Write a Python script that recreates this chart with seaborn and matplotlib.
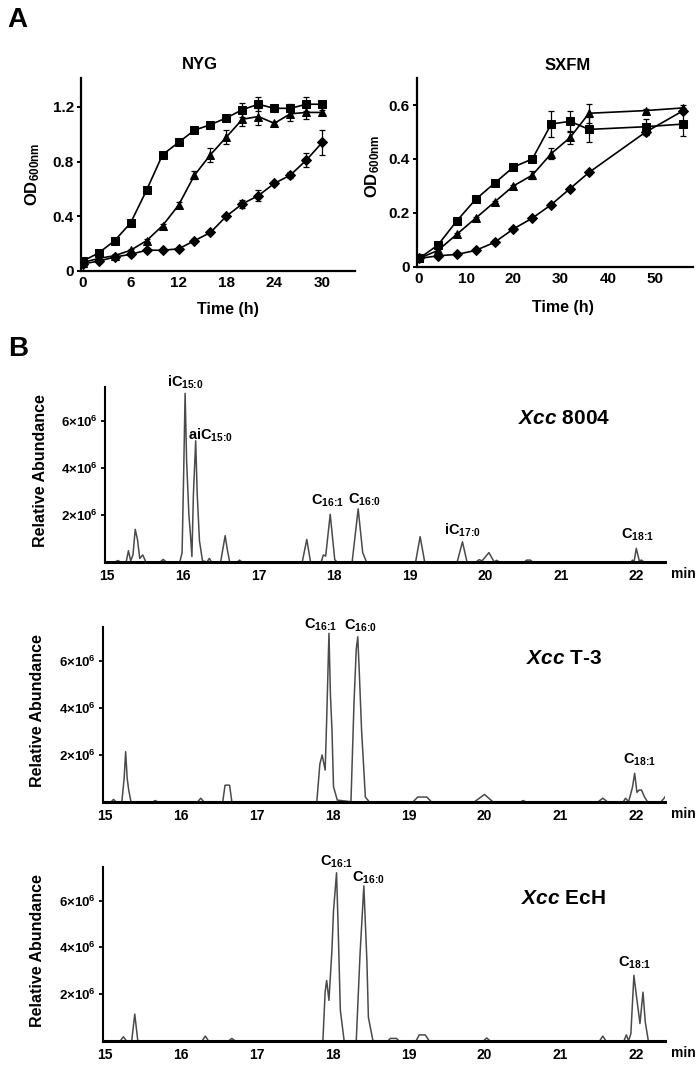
import numpy as np
import pandas as pd
import seaborn as sns
import matplotlib.pyplot as plt

# =====================================================
# Panel A data: growth curves (OD600)
# =====================================================

nyg_time = [0, 2, 4, 6, 8, 10, 12, 14, 16, 18, 20, 22, 24, 26, 28, 30]
nyg_square = [0.07, 0.13, 0.22, 0.35, 0.59, 0.85, 0.94, 1.03, 1.07, 1.12, 1.18, 1.22, 1.19, 1.19, 1.22, 1.22]
nyg_triangle = [0.06, 0.09, 0.11, 0.15, 0.22, 0.33, 0.48, 0.70, 0.85, 0.98, 1.11, 1.13, 1.08, 1.15, 1.16, 1.16]
nyg_diamond = [0.05, 0.07, 0.10, 0.12, 0.15, 0.15, 0.16, 0.22, 0.28, 0.40, 0.49, 0.55, 0.64, 0.70, 0.81, 0.94]
nyg_square_err = [0.01, 0.01, 0.01, 0.01, 0.01, 0.01, 0.01, 0.01, 0.01, 0.01, 0.05, 0.05, 0.01, 0.03, 0.05, 0.02]
nyg_triangle_err = [0.01, 0.01, 0.01, 0.01, 0.01, 0.01, 0.02, 0.03, 0.05, 0.05, 0.05, 0.06, 0.01, 0.05, 0.05, 0.02]
nyg_diamond_err = [0.01, 0.01, 0.01, 0.01, 0.01, 0.01, 0.01, 0.01, 0.01, 0.01, 0.03, 0.04, 0.01, 0.02, 0.05, 0.09]

sxfm_time = [0, 4, 8, 12, 16, 20, 24, 28, 32, 36, 48, 56]
sxfm_square = [0.03, 0.08, 0.17, 0.25, 0.31, 0.37, 0.40, 0.53, 0.54, 0.51, 0.52, 0.53]
sxfm_triangle = [0.03, 0.06, 0.12, 0.18, 0.24, 0.30, 0.34, 0.42, 0.48, 0.57, 0.58, 0.59]
sxfm_diamond = [0.03, 0.04, 0.045, 0.06, 0.09, 0.14, 0.18, 0.23, 0.29, 0.35, 0.50, 0.58]
sxfm_square_err = [0.005, 0.005, 0.005, 0.005, 0.005, 0.005, 0.01, 0.05, 0.04, 0.045, 0.03, 0.045]
sxfm_triangle_err = [0.005, 0.005, 0.005, 0.005, 0.005, 0.005, 0.015, 0.02, 0.025, 0.035, 0.005, 0.01]
sxfm_diamond_err = [0.005, 0.005, 0.005, 0.005, 0.005, 0.005, 0.005, 0.005, 0.005, 0.005, 0.01, 0.01]

# =====================================================
# Panel B data: GC traces (abundance in units of 1e6)
# =====================================================

b1_time = [14.98, 15.10, 15.14, 15.18, 15.25, 15.28, 15.31, 15.34, 15.37, 15.40, 15.43, 15.47, 15.51,
           15.70, 15.74, 15.78, 15.96, 15.99, 16.01, 16.03, 16.05, 16.08, 16.10, 16.12, 16.14, 16.17,
           16.19, 16.22, 16.26, 16.32, 16.35, 16.38, 16.50, 16.56, 16.59, 16.62, 16.72, 16.75, 16.78,
           17.58, 17.64, 17.69, 17.83, 17.86, 17.89, 17.95, 18.01, 18.04, 18.24, 18.32, 18.38, 18.43,
           19.08, 19.14, 19.20, 19.63, 19.70, 19.76, 19.88, 19.92, 19.96, 20.05, 20.12, 20.15, 20.19,
           20.52, 20.55, 20.60, 20.63, 21.93, 21.95, 21.97, 22.00, 22.04, 22.07, 22.10, 22.38]
b1_abund = [0, 0, 0.06, 0, 0, 0.48, 0.05, 0.3, 1.39, 0.95, 0.15, 0.3, 0,
            0, 0.11, 0, 0, 0.4, 3.6, 7.18, 4.3, 2.0, 1.2, 0.23, 2.9, 5.16,
            2.9, 0.9, 0.05, 0, 0.15, 0, 0, 1.12, 0.5, 0, 0, 0.08, 0,
            0, 0.96, 0, 0, 0.3, 0.25, 2.03, 0.1, 0, 0, 2.26, 0.4, 0,
            0, 1.08, 0, 0, 0.86, 0, 0, 0.1, 0.05, 0.4, 0, 0.07, 0,
            0, 0.08, 0.08, 0, 0, 0.08, 0, 0.58, 0.05, 0.08, 0, 0]

b2_time = [14.98, 15.08, 15.11, 15.14, 15.22, 15.25, 15.27, 15.29, 15.31, 15.34, 15.63, 15.66, 15.69,
           16.22, 16.26, 16.30, 16.55, 16.58, 16.61, 16.64, 16.67, 17.79, 17.83, 17.86, 17.90, 17.92,
           17.95, 17.97, 17.99, 18.01, 18.06, 18.24, 18.28, 18.31, 18.33, 18.35, 18.38, 18.43, 18.48,
           19.06, 19.12, 19.24, 19.30, 19.87, 20.00, 20.11, 20.48, 20.51, 20.54, 21.50, 21.56, 21.62,
           21.83, 21.86, 21.90, 21.95, 21.98, 22.01, 22.04, 22.07, 22.11, 22.15, 22.33, 22.38, 22.42]
b2_abund = [0, 0, 0.1, 0, 0, 1.0, 2.13, 1.0, 0.5, 0, 0, 0.05, 0,
            0, 0.15, 0, 0, 0.7, 0.71, 0.7, 0, 0, 1.6, 1.99, 1.35, 3.5,
            7.17, 4.5, 3.05, 0.64, 0.07, 0, 4.19, 6.5, 7.02, 5.5, 3.05, 0.2, 0,
            0, 0.2, 0.2, 0, 0, 0.31, 0, 0, 0.05, 0, 0, 0.15, 0,
            0, 0.15, 0, 0.6, 1.21, 0.4, 0.5, 0.5, 0.2, 0, 0, 0.2, 0.5]

b3_time = [14.98, 15.20, 15.24, 15.28, 15.35, 15.39, 15.43, 16.28, 16.32, 16.36, 16.63, 16.67, 16.71,
           17.87, 17.90, 17.92, 17.95, 17.99, 18.01, 18.05, 18.07, 18.10, 18.15, 18.31, 18.36, 18.41,
           18.45, 18.47, 18.53, 18.73, 18.76, 18.84, 18.87, 19.10, 19.14, 19.22, 19.27, 19.99, 20.03,
           20.07, 21.52, 21.56, 21.60, 21.84, 21.87, 21.90, 21.93, 21.97, 22.00, 22.05, 22.09, 22.12,
           22.16, 22.38]
b3_abund = [0, 0, 0.17, 0, 0, 1.14, 0, 0, 0.2, 0, 0, 0.1, 0,
            0, 2.1, 2.58, 1.73, 3.93, 5.56, 7.19, 5.0, 1.31, 0, 0, 3.72, 6.63,
            3.43, 1.0, 0, 0, 0.1, 0.1, 0, 0, 0.25, 0.25, 0, 0, 0.12,
            0, 0, 0.2, 0, 0, 0.25, 0, 0.3, 2.8, 2.0, 0.74, 2.08, 0.8,
            0, 0]

b1_labels = [r"$iC_{\text{15:0}}$", r"$aiC_{\text{15:0}}$", r"$C_{\text{16:1}}$",
             r"$C_{\text{16:0}}$", r"$iC_{\text{17:0}}$", r"$C_{\text{18:1}}$"]
b1_label_x = [16.03, 16.37, 17.91, 18.40, 19.70, 22.02]
b1_label_y = [7.66, 5.40, 2.62, 2.64, 1.36, 1.15]

b2_labels = [r"$C_{\text{16:1}}$", r"$C_{\text{16:0}}$", r"$C_{\text{18:1}}$"]
b2_label_x = [17.84, 18.36, 22.04]
b2_label_y = [7.55, 7.50, 1.77]

b3_labels = [r"$C_{\text{16:1}}$", r"$C_{\text{16:0}}$", r"$C_{\text{18:1}}$"]
b3_label_x = [18.05, 18.47, 21.98]
b3_label_y = [7.65, 6.98, 3.35]

strain_names = [r"$\mathit{Xcc}$ 8004", r"$\mathit{Xcc}$ T-3", r"$\mathit{Xcc}$ EcH"]

# =====================================================
# Style
# =====================================================

sns.set_theme(style="ticks")
plt.rcParams["font.family"] = ["Liberation Sans", "DejaVu Sans"]
plt.rcParams["font.weight"] = "bold"
plt.rcParams["mathtext.fontset"] = "custom"
plt.rcParams["mathtext.rm"] = "Liberation Sans:bold"
plt.rcParams["mathtext.bf"] = "Liberation Sans:bold"
plt.rcParams["mathtext.it"] = "Liberation Sans:italic:bold"
plt.rcParams["mathtext.default"] = "bf"
for key in ["text.color", "axes.labelcolor", "xtick.color", "ytick.color", "axes.edgecolor"]:
    plt.rcParams[key] = "black"

fig = plt.figure(figsize=(7, 10.67), dpi=100)


def growth_panel(ax, time, series, errors, xlim, ylim, xticks, yticks,
                 title, title_x, ylab_x, ylab_y, xlab_x, xlab_y):
    rows = []
    for name, vals in series.items():
        for t, v in zip(time, vals):
            rows.append({"time": t, "od": v, "strain": name})
    df = pd.DataFrame(rows)

    sns.lineplot(
        data=df, x="time", y="od",
        hue="strain", style="strain",
        palette={"sq": "black", "tri": "black", "dia": "black"},
        markers={"sq": "s", "tri": "^", "dia": "D"},
        dashes=False, markersize=5.5, markeredgecolor="black",
        linewidth=1.2, estimator=None, legend=False, ax=ax
    )
    for name, vals in series.items():
        ax.errorbar(time, vals, yerr=errors[name], fmt="none",
                    ecolor="black", elinewidth=0.9, capsize=2.5, capthick=0.9)

    ax.set_xlim(*xlim)
    ax.set_ylim(*ylim)
    ax.set_xticks(xticks)
    ax.set_xticklabels([f"{t:g}" for t in xticks])
    ax.set_yticks(yticks)
    ax.set_yticklabels(["0"] + [f"{t:.1f}" for t in yticks[1:]])
    ax.set_xlabel("")
    ax.set_ylabel("")
    sns.despine(ax=ax)
    for sp in ["left", "bottom"]:
        ax.spines[sp].set_linewidth(1.6)
    ax.tick_params(axis="both", labelsize=11, width=1.4, length=3, pad=2)
    ax.tick_params(axis="x", length=0, pad=4)

    ax.text(title_x, 1.07, title, transform=ax.transAxes,
            ha="center", va="center", fontsize=12, fontweight="bold")
    ax.text(ylab_x, ylab_y, r"$OD_{600nm}$", transform=ax.transAxes,
            ha="center", va="center", rotation=90, fontsize=12)
    ax.text(xlab_x, xlab_y, "Time (h)", transform=ax.transAxes,
            ha="center", va="center", fontsize=11.5, fontweight="bold")


ax_nyg = fig.add_axes([0.1153, 0.7463, 0.3918, 0.1803])
growth_panel(
    ax_nyg, nyg_time,
    {"sq": nyg_square, "tri": nyg_triangle, "dia": nyg_diamond},
    {"sq": nyg_square_err, "tri": nyg_triangle_err, "dia": nyg_diamond_err},
    (-0.25, 34.1), (0, 1.41), [0, 6, 12, 18, 24, 30], [0, 0.4, 0.8, 1.2],
    "NYG", 0.435, -0.174, 0.50, 0.537, -0.204
)

ax_sx = fig.add_axes([0.5953, 0.7502, 0.3951, 0.1764])
growth_panel(
    ax_sx, sxfm_time,
    {"sq": sxfm_square, "tri": sxfm_triangle, "dia": sxfm_diamond},
    {"sq": sxfm_square_err, "tri": sxfm_triangle_err, "dia": sxfm_diamond_err},
    (-0.5, 58.1), (0, 0.70), [0, 10, 20, 30, 40, 50], [0, 0.2, 0.4, 0.6],
    "SXFM", 0.547, -0.158, 0.53, 0.53, -0.22
)


def gc_panel(ax, time, abund, labels, lx, ly, strain):
    sns.lineplot(x=time, y=abund, ax=ax, color="#4a4a4a", linewidth=1.1,
                 estimator=None, sort=False)
    ax.set_xlim(14.97, 22.38)
    ax.set_ylim(0, 7.45)
    ax.set_xticks([15, 16, 17, 18, 19, 20, 21, 22])
    ax.set_xticklabels(["15", "16", "17", "18", "19", "20", "21", "22"])
    ax.set_yticks([2, 4, 6])
    ax.set_yticklabels([r"$2{\times}10^6$", r"$4{\times}10^6$", r"$6{\times}10^6$"])
    sns.despine(ax=ax)
    ax.spines["left"].set_linewidth(1.5)
    ax.spines["bottom"].set_linewidth(2.2)
    ax.tick_params(axis="both", labelsize=9.5, width=1.3, length=3, pad=2)
    ax.tick_params(axis="x", length=0, pad=5, labelsize=10)
    for text, x, y in zip(labels, lx, ly):
        ax.text(x, y, text, ha="center", va="center", fontsize=10.5, clip_on=False)
    ax.text(0.82, 0.82, strain, transform=ax.transAxes,
            ha="center", va="center", fontsize=15, fontweight="bold")
    ax.text(1.01, -0.07, "min", transform=ax.transAxes,
            ha="left", va="center", fontsize=10, fontweight="bold")
    ax.text(-0.116, 0.52, "Relative Abundance", transform=ax.transAxes,
            ha="center", va="center", rotation=90, fontsize=11.5, fontweight="bold")


ax_b1 = fig.add_axes([0.150, 0.4733, 0.800, 0.1640])
gc_panel(ax_b1, b1_time, b1_abund, b1_labels, b1_label_x, b1_label_y, strain_names[0])

ax_b2 = fig.add_axes([0.147, 0.2486, 0.803, 0.1640])
gc_panel(ax_b2, b2_time, b2_abund, b2_labels, b2_label_x, b2_label_y, strain_names[1])

ax_b3 = fig.add_axes([0.147, 0.0246, 0.803, 0.1631])
gc_panel(ax_b3, b3_time, b3_abund, b3_labels, b3_label_x, b3_label_y, strain_names[2])

fig.text(0.010, 0.993, "A", ha="left", va="top", fontsize=20, fontweight="bold")
fig.text(0.012, 0.685, "B", ha="left", va="top", fontsize=20, fontweight="bold")

fig.savefig("out.png", dpi=100)
plt.close(fig)
